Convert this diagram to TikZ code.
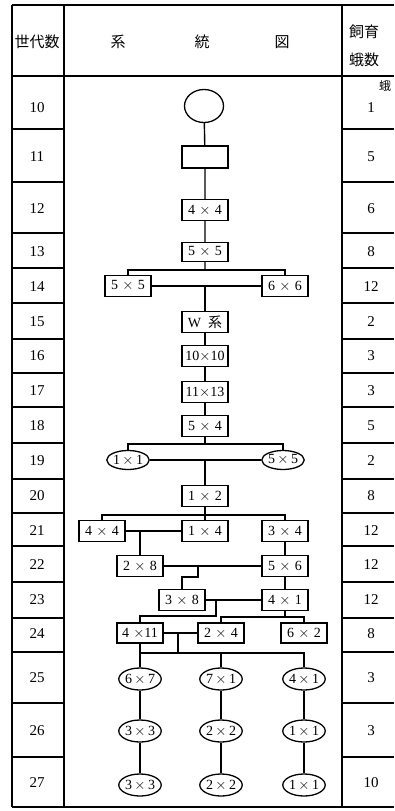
\documentclass[tikz,border=0pt]{standalone}
\usepackage{fontspec}
\setmainfont{Liberation Serif}
\newfontfamily\jpfont{Noto Sans CJK JP}
\usetikzlibrary{shapes.geometric}
\newcommand{\by}{\hspace{0.3em}\(\times\)\hspace{0.3em}}
\newcommand{\byc}{\(\,\times\,\)}

\begin{document}
\begin{tikzpicture}[x=1pt,y=-1pt,
  rule/.style={line width=1.6pt},
  link/.style={line width=1.4pt},
  cell/.style={draw,line width=1.4pt,minimum width=46pt,minimum height=21pt,inner sep=0pt,font=\fontsize{14}{14}\selectfont},
  oval/.style={draw,ellipse,line width=1.3pt,minimum width=39pt,minimum height=22pt,inner sep=0pt,font=\fontsize{14}{14}\selectfont},
  num/.style={font=\fontsize{15}{15}\selectfont},
  head/.style={font=\jpfont\fontsize{15}{15}\selectfont}]
  \useasboundingbox (0,0) rectangle (394,811);
  \draw[rule] (12,5) -- (394,5);
  \draw[rule] (12,76) -- (394,76);
  \draw[rule] (12,807) -- (394,807);
  \draw[rule] (12,5) -- (12,807);
  \draw[rule] (64,5) -- (64,807);
  \draw[rule] (342,5) -- (342,807);
  \foreach \y in {129,182,233,268,303,339,373,407,443,479,513,546,582,618,652,703,757}{
    \draw[rule] (12,\y) -- (64,\y);
    \draw[rule] (342,\y) -- (394,\y);
  }
  \node[head] (hgen) at (37,42) {世代数};
  \node[head] (hsys) at (118,42) {系};
  \node[head] (htree) at (202,42) {統};
  \node[head] (hfig) at (282,42) {図};
  \node[head] (hcnt) at (364,32) {飼育};
  \node[head] (hmoth) at (364,60) {蛾数};
  \node[head,font=\jpfont\fontsize{12}{12}\selectfont] (hcut) at (385,86) {蛾};
  \foreach \g/\n/\y in {10/1/108,11/5/157,12/6/209,13/8/252,14/12/287,15/2/322,16/3/356,17/3/391,18/5/426,19/2/461,20/8/496,21/12/531,22/12/565,23/12/600,24/8/634,25/3/678,26/3/731,27/10/783}{
    \node[num] (g\g) at (37,\y) {\g};
    \node[num] (n\g) at (371,\y) {\n};
  }

  \node[oval,minimum height=33pt] (e10) at (204,106) {};
  \node[cell,minimum height=22pt] (b11) at (205,157) {};
  \node[cell] (b12) at (205,210) {4\by 4};
  \node[cell,minimum height=19pt] (b13) at (205,252) {5\by 5};
  \node[cell] (b14a) at (128,286) {5\by 5};
  \node[cell] (b14b) at (285,286) {6\by 6};
  \node[cell] (b15) at (205,322) {W\hspace{0.5em}{\jpfont 系}};
  \node[cell] (b16) at (205,356) {10\(\times\)10};
  \node[cell] (b17) at (205,392) {11\(\times\)13};
  \node[cell] (b18) at (205,426) {5\by 4};
  \node[oval,minimum width=38pt,minimum height=19pt] (o19a) at (128,460) {1\byc 1};
  \node[oval,minimum width=38pt,minimum height=19pt] (o19b) at (283,460) {5\byc 5};
  \node[cell] (b20) at (205,496) {1\by 2};
  \node[cell] (b21a) at (102,531) {4\by 4};
  \node[cell] (b21b) at (205,531) {1\by 4};
  \node[cell] (b21c) at (285,531) {3\by 4};
  \node[cell] (b22a) at (140,566) {2\by 8};
  \node[cell] (b22b) at (285,566) {5\by 6};
  \node[cell] (b23a) at (182,600) {3\by 8};
  \node[cell] (b23b) at (285,600) {4\by 1};
  \node[cell,minimum height=20pt] (b24a) at (140,633) {4\hspace{0.3em}\(\times\)11};
  \node[cell,minimum height=20pt] (b24b) at (221,633) {2\by 4};
  \node[cell,minimum height=20pt] (b24c) at (304,633) {6\by 2};
  \node[oval] (o25a) at (140,679) {6\byc 7};
  \node[oval] (o25b) at (221,679) {7\byc 1};
  \node[oval] (o25c) at (304,679) {4\byc 1};
  \node[oval] (o26a) at (140,731) {3\byc 3};
  \node[oval] (o26b) at (221,731) {2\byc 2};
  \node[oval] (o26c) at (304,731) {1\byc 1};
  \node[oval] (o27a) at (140,785) {3\byc 3};
  \node[oval] (o27b) at (221,785) {2\byc 2};
  \node[oval] (o27c) at (304,785) {1\byc 1};

  \coordinate (j14) at (205,270);
  \coordinate (j19) at (205,444);
  \coordinate (j21) at (205,515);
  \coordinate (k22) at (198,566);
  \coordinate (k23) at (216,600);
  \coordinate (j24) at (285,617);
  \coordinate (k24) at (178,633);
  \coordinate (j25) at (178,653);

  \draw[link] (e10) -- (b11) -- (b12) -- (b13) -- (j14);
  \draw[link] (b14a) |- (j14) -| (b14b);
  \draw[link] (b14a) -- (b14b);
  \draw[link] (b15 |- b14a) -- (b15) -- (b16) -- (b17) -- (b18) -- (j19);
  \draw[link] (o19a) |- (j19) -| (o19b);
  \draw[link] (o19a) -- (o19b);
  \draw[link] (b20 |- o19a) -- (b20) -- (b21b);
  \draw[link] (b21a) |- (j21) -| (b21c);
  \draw[link] (b21a) -- (b21b);
  \draw[link] (b21a -| b22a) -- (b22a);
  \draw[link] (b21c) -- (b22b) -- (b23b) -- (j24);
  \draw[link] (b22a) -- (b22b);
  \draw[link] (k22) -- ++(0,11) -| (b23a);
  \draw[link] (b23a) -- (b23b);
  \draw[link] (k23) -- ++(0,16) -| (b24a);
  \draw[link] (b24b) |- (j24) -| (b24c);
  \draw[link] (b24a) -- (b24b);
  \draw[link] (k24) -- (j25);
  \draw[link] (b24a) -- (b24a |- j25);
  \draw[link] (o25a) |- (j25) -| (o25c);
  \draw[link] (o25b) -- (o25b |- j25);
  \draw[link] (o25a) -- (o26a) -- (o27a);
  \draw[link] (o25b) -- (o26b) -- (o27b);
  \draw[link] (o25c) -- (o26c) -- (o27c);
\end{tikzpicture}
\end{document}
